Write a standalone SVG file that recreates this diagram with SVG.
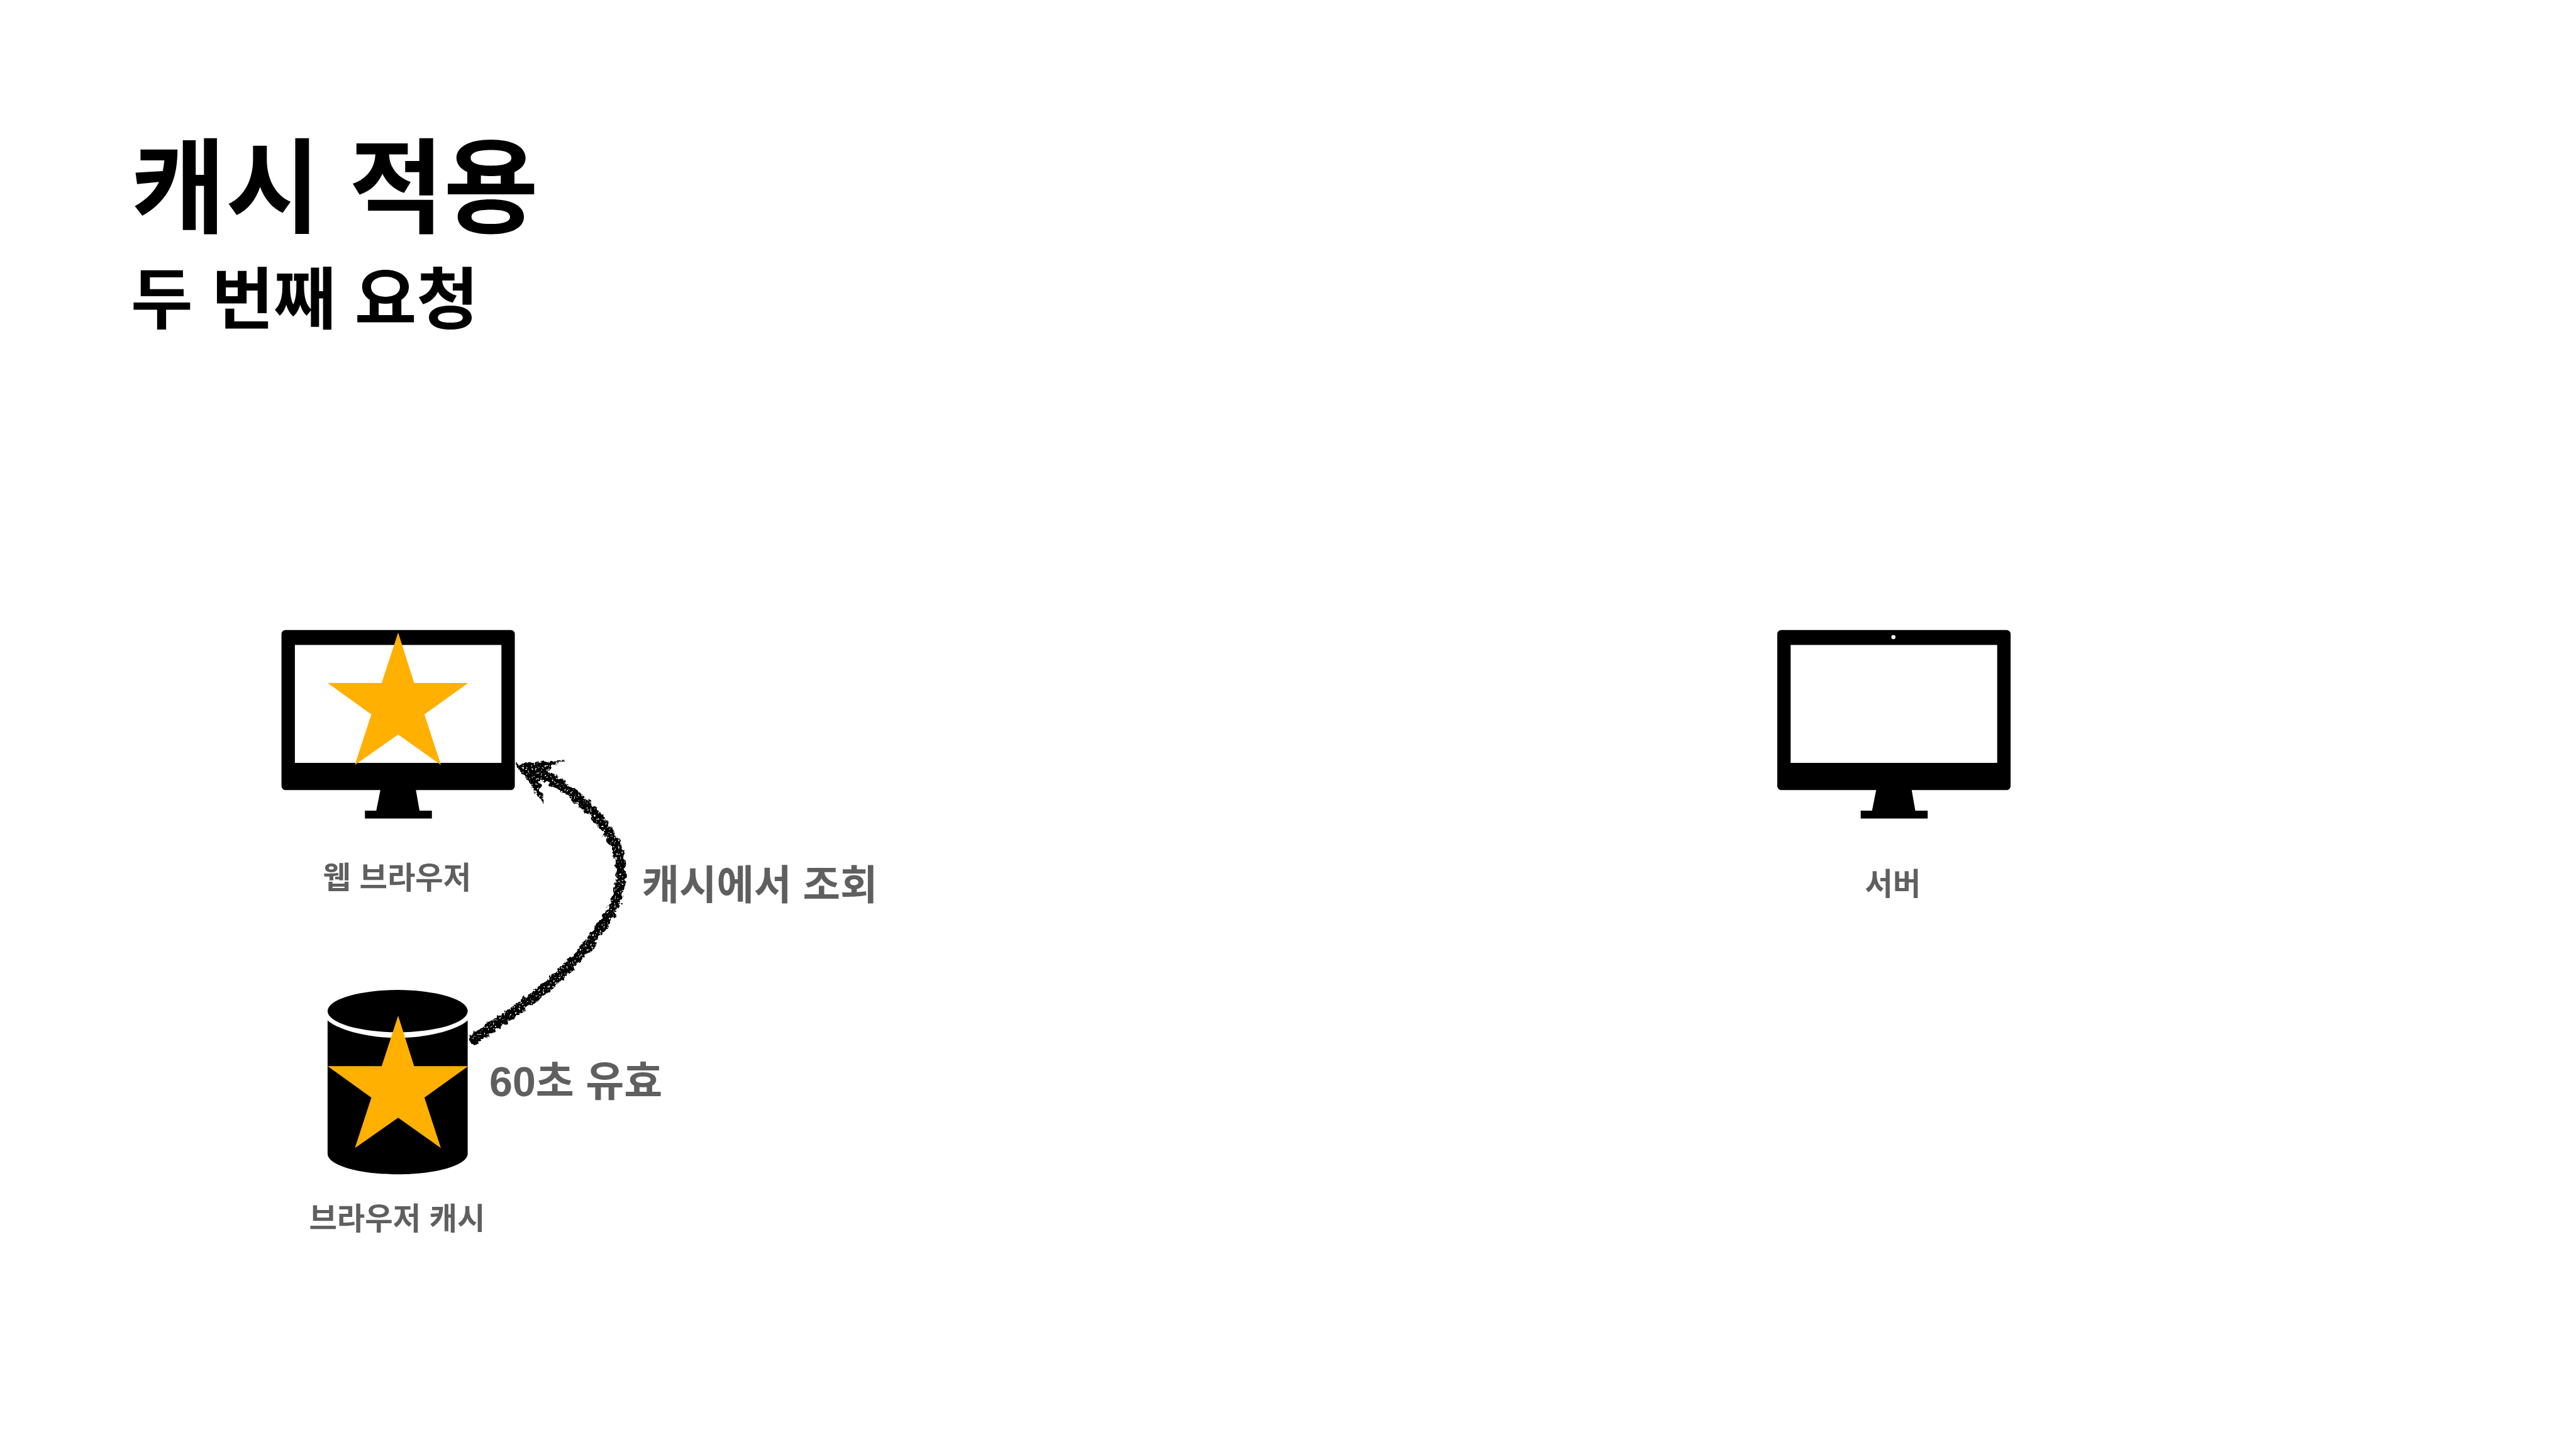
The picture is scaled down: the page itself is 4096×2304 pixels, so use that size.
<svg xmlns="http://www.w3.org/2000/svg" width="4096" height="2304" viewBox="0 0 4096 2304">
<style>
text{font-family:"Liberation Sans","Noto Sans CJK KR",sans-serif;font-weight:700}
.title{font-size:200px;fill:#000}
.sub{font-size:131px;fill:#000}
.label{font-size:59px;fill:#5f5f5f;text-anchor:middle;font-weight:700}
.note{font-size:79px;fill:#5f5f5f}
.note2{font-size:81px;fill:#5f5f5f}
.star{fill:#ffb000}
.ink{fill:#000}
</style>
<defs>
<filter id="chalk" x="-10%" y="-10%" width="120%" height="120%" color-interpolation-filters="sRGB">
<feTurbulence type="fractalNoise" baseFrequency=".1" numOctaves="3" seed="4" result="n"/>
<feDisplacementMap in="SourceGraphic" in2="n" scale="14" xChannelSelector="R" yChannelSelector="G" result="d"/>
<feTurbulence type="fractalNoise" baseFrequency=".28" numOctaves="2" seed="9"/>
<feColorMatrix type="matrix" values="0 0 0 0 0  0 0 0 0 0  0 0 0 0 0  9 0 0 0 -2.4" result="m"/>
<feComposite in="d" in2="m" operator="in"/>
</filter>
<path id="monitor" class="ink" fill-rule="evenodd" d="M8 1223H445a8 8 0 0 1 8 8V1526a8 8 0 0 1-8 8H261L268 1574H292V1589H162V1574H184L192 1534H8a8 8 0 0 1-8-8V1231a8 8 0 0 1 8-8ZM26 1252V1481H427V1252Z"/>
<polygon id="star" class="star" points="137,0 168,98 273,98 188,159 220,257 137,198 53,257 85,159 0,98 105,98"/>
</defs>
<rect width="4096" height="2304" fill="#fff"/>
<g transform="scale(.819)">
<g id="title">
<text class="title" x="254" y="436">캐시 적용</text>
<text class="sub" x="254" y="627">두 번째 요청</text>
</g>
<g id="web-browser">
<use href="#monitor" x="546.5"/>
<use href="#star" x="636" y="1228"/>
<text class="label" x="771" y="1725">웹 브라우저</text>
</g>
<g id="browser-cache">
<path class="ink" d="M636 1981C660 2002 720 2015 772 2015C824 2015 884 2002 908 1981V2240C908 2262 848 2280 772 2280C696 2280 636 2262 636 2240Z"/>
<ellipse class="ink" cx="772" cy="1963" rx="136" ry="41"/>
<use href="#star" x="636" y="1972"/>
<text class="label" x="771" y="2387">브라우저 캐시</text>
</g>
<g id="server">
<use href="#monitor" x="3450.5"/>
<circle cx="3676" cy="1237" r="4" fill="#fff"/>
<text class="label" x="3675" y="1737">서버</text>
</g>
<g id="connectors" filter="url(#chalk)">
<path d="M913 2021C1010 1960 1105 1890 1160 1810C1198 1760 1208 1720 1206 1680C1198 1625 1162 1580 1100 1533C1085 1522 1070 1512 1050 1500" fill="none" stroke="#000" stroke-width="20"/>
<polygon class="ink" points="1002,1483 1097,1475 1057,1497 1048,1520 1055,1562"/>
</g>
<g id="labels">
<text class="note" x="1246" y="1746">캐시에서 조회</text>
<text class="note2" x="950" y="2128">60초 유효</text>
</g>
</g>
</svg>
